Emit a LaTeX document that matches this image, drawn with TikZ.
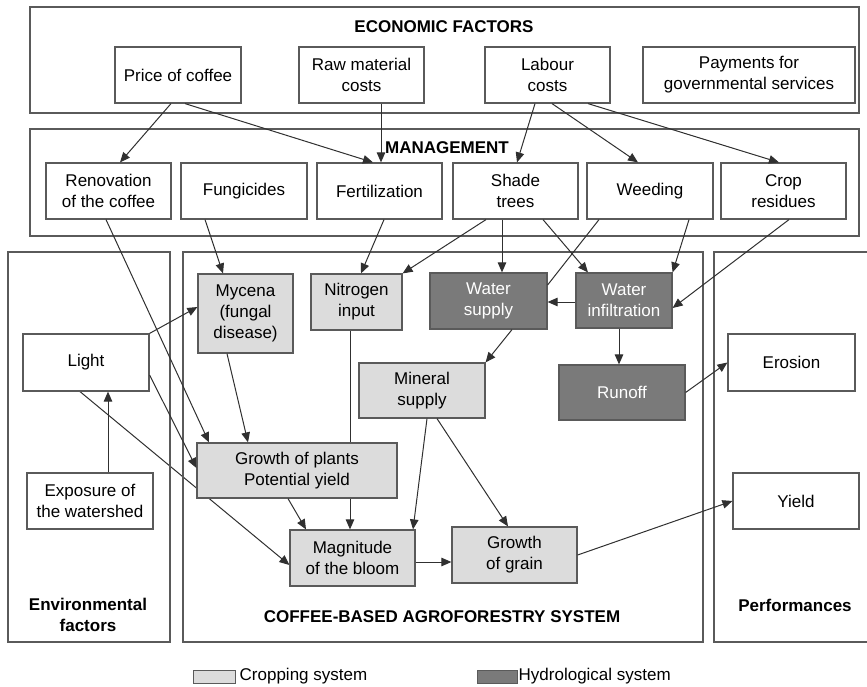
\documentclass[tikz,border=0pt]{standalone}
\usepackage{fontspec}
\setmainfont{Liberation Sans}
\usetikzlibrary{arrows.meta,backgrounds}
\definecolor{cropfill}{HTML}{DCDCDC}
\definecolor{hydrofill}{HTML}{7A7A7A}
\definecolor{edgegray}{HTML}{5A5A5A}
\definecolor{linkgray}{HTML}{303030}

\begin{document}
\begin{tikzpicture}[x=1pt,y=-1pt,
  every node/.style={font=\fontsize{17}{21}\selectfont},
  frame/.style={draw=edgegray, line width=1.2pt, inner sep=0pt},
  factor/.style={draw=edgegray, line width=1.2pt, fill=white, align=center,
    minimum width=#1, minimum height=56pt, inner sep=0pt},
  factor/.default=125pt,
  cropbox/.style={factor=#1, fill=cropfill},
  cropbox/.default=125pt,
  hydrobox/.style={factor=#1, fill=hydrofill, text=white},
  hydrobox/.default=125pt,
  title/.style={font=\fontsize{17}{21}\selectfont\bfseries, align=center},
  link/.style={draw=linkgray, line width=1pt, -{Triangle[length=10pt,width=8.5pt]}},
  plain/.style={draw=linkgray, line width=1pt}]

\useasboundingbox (0,0) rectangle (867,687);

% ---- outer frames ----
\node[frame, minimum width=829pt, minimum height=106pt] (econ) at (444.5,60) {};
\node[frame, minimum width=829pt, minimum height=107pt] (mgmt) at (444.5,182.5) {};
\node[frame, minimum width=162pt, minimum height=390pt] (env) at (89,447) {};
\node[frame, minimum width=520pt, minimum height=390pt] (sys) at (443,447) {};
\node[frame, minimum width=170pt, minimum height=390pt] (perf) at (799,447) {};

\node[title] (econT) at (444,27) {ECONOMIC FACTORS};
\node[title] (mgmtT) at (447,148) {MANAGEMENT};
\node[title] (envT) at (88,615) {Environmental\\factors};
\node[title] (sysT) at (442,617) {COFFEE-BASED AGROFORESTRY SYSTEM};
\node[title] (perfT) at (795,605) {Performances};

% ---- economic factors ----
\node[factor=126pt] (price) at (178,75) {Price of coffee};
\node[factor] (raw) at (361.5,75) {Raw material\\costs};
\node[factor] (labour) at (547.5,75) {Labour\\costs};
\node[factor=212pt, line width=1.6pt] (pay) at (749,75) {Payments for\\governmental services};

% ---- management ----
\node[factor] (renov) at (108.5,191) {Renovation\\of the coffee};
\node[factor=126pt] (fung) at (244,191) {Fungicides};
\node[factor] (fert) at (379.5,191) {Fertilization};
\node[factor] (shade) at (515.5,191) {Shade\\trees};
\node[factor=126pt] (weed) at (650,191) {Weeding};
\node[factor] (crop) at (783.5,191) {Crop\\residues};

% ---- environmental factors ----
\node[factor=126pt, minimum height=57pt] (light) at (86,362.5) {Light};
\node[factor=126pt] (expo) at (90,501) {Exposure of\\the watershed};

% ---- coffee-based system ----
\node[cropbox=95pt, minimum height=79pt] (mycena) at (245.5,313.5) {Mycena\\(fungal\\disease)};
\node[cropbox=91pt] (nitro) at (356.5,302) {Nitrogen\\input};
\node[hydrobox=117pt] (wsup) at (488.5,301) {Water\\supply};
\node[hydrobox=96pt, minimum height=55pt] (winf) at (624,300.5) {Water\\infiltration};
\node[cropbox=126pt, minimum height=55pt] (mineral) at (422,390.5) {Mineral\\supply};
\node[hydrobox=126pt, minimum height=55pt] (runoff) at (622,392.5) {Runoff};
\node[cropbox=200pt, minimum height=55pt] (gplants) at (297,470.5) {Growth of plants\\Potential yield};
\node[cropbox] (magn) at (352.5,558) {Magnitude\\of the bloom};
\node[cropbox] (grain) at (514.5,555) {Growth\\of grain};

% ---- performances ----
\node[factor=127pt, minimum height=57pt] (erosion) at (791.5,362.5) {Erosion};
\node[factor=126pt] (yield) at (796,501) {Yield};

% ---- legend ----
\node[draw=edgegray, line width=1pt, fill=cropfill, minimum width=42pt, minimum height=13pt, inner sep=0pt] (legcrop) at (214,676.5) {};
\node[anchor=west, inner sep=0pt] (legcropT) at ([xshift=4pt]legcrop.east) {Cropping system};
\node[draw=edgegray, line width=1pt, fill=hydrofill, minimum width=40pt, minimum height=13pt, inner sep=0pt] (leghydro) at (497,676.5) {};
\node[anchor=west, inner sep=0pt] (leghydroT) at ([xshift=1pt]leghydro.east) {Hydrological system};

% ---- links running behind the growth box ----
\begin{scope}[on background layer]
  \draw[link] ([xshift=-6pt]light.south) -- ([yshift=-7pt]magn.west);
  \draw[link] ([xshift=-6.5pt]nitro.south) -- ([xshift=-2.5pt]magn.north);
\end{scope}

% ---- economic factors -> management ----
\draw[link] ([xshift=-7pt]price.south) -- ([xshift=11.5pt]renov.north);
\draw[link] ([xshift=7pt]price.south) -- ([xshift=-6.5pt]fert.north);
\draw[link] ([xshift=19.5pt]raw.south) -- ([xshift=1.5pt]fert.north);
\draw[link] ([xshift=-12.5pt]labour.south) -- ([xshift=1.5pt]shade.north);
\draw[link] ([xshift=4.5pt]labour.south) -- ([xshift=-12pt]weed.north);
\draw[link] ([xshift=40.5pt]labour.south) -- ([xshift=-4.5pt]crop.north);

% ---- management -> system ----
\draw[link] ([xshift=-2.5pt]renov.south) -- ([xshift=-88pt]gplants.north);
\draw[link] ([xshift=-39pt]fung.south) -- ([xshift=-22.5pt]mycena.north);
\draw[link] ([xshift=4.5pt]fert.south) -- ([xshift=4.5pt]nitro.north);
\draw[link] ([xshift=-29.5pt]shade.south) -- (nitro.north east);
\draw[link] ([xshift=-13.5pt]shade.south) -- ([xshift=13.5pt]wsup.north);
\draw[link] ([xshift=27.5pt]shade.south) -- ([xshift=-36pt]winf.north);
\draw[plain] ([xshift=-51pt]weed.south) -- ([yshift=16pt]wsup.east);
\draw[link] ([xshift=39pt]weed.south) -- (winf.north east);
\draw[link] ([xshift=5.5pt]crop.south) -- ([yshift=-7.5pt]winf.east);

% ---- inside the system ----
\draw[link] ([yshift=-1.5pt]winf.west) -- ([yshift=-1.5pt]winf.west -| wsup.east);
\draw[link] ([xshift=-5pt]winf.south) -- ([xshift=-3pt]runoff.north);
\draw[link] ([xshift=23.5pt]wsup.south) -- (mineral.north east);
\draw[link] ([xshift=-18.5pt]mycena.south) -- ([xshift=-49pt]gplants.north);
\draw[link] ([xshift=5pt]mineral.south) -- ([xshift=60.5pt]magn.north);
\draw[link] ([xshift=15pt]mineral.south) -- ([xshift=-6.5pt]grain.north);
\draw[link] ([xshift=-9pt]gplants.south) -- ([xshift=-46.5pt]magn.north);
\draw[link] ([yshift=-4pt]magn.east) -- ([yshift=-4pt]magn.east -| grain.west);

% ---- environment -> system ----
\draw[link] (light.north east) -- ([yshift=6.5pt]mycena.west);
\draw[link] ([yshift=-12.5pt]light.east) -- ([yshift=2.5pt]gplants.west);
\draw[link] ([xshift=18pt]expo.north) -- ([xshift=22pt]light.south);

% ---- system -> performances ----
\draw[link] (runoff.east) -- (erosion.west);
\draw[link] (grain.east) -- (yield.west);

\end{tikzpicture}
\end{document}
